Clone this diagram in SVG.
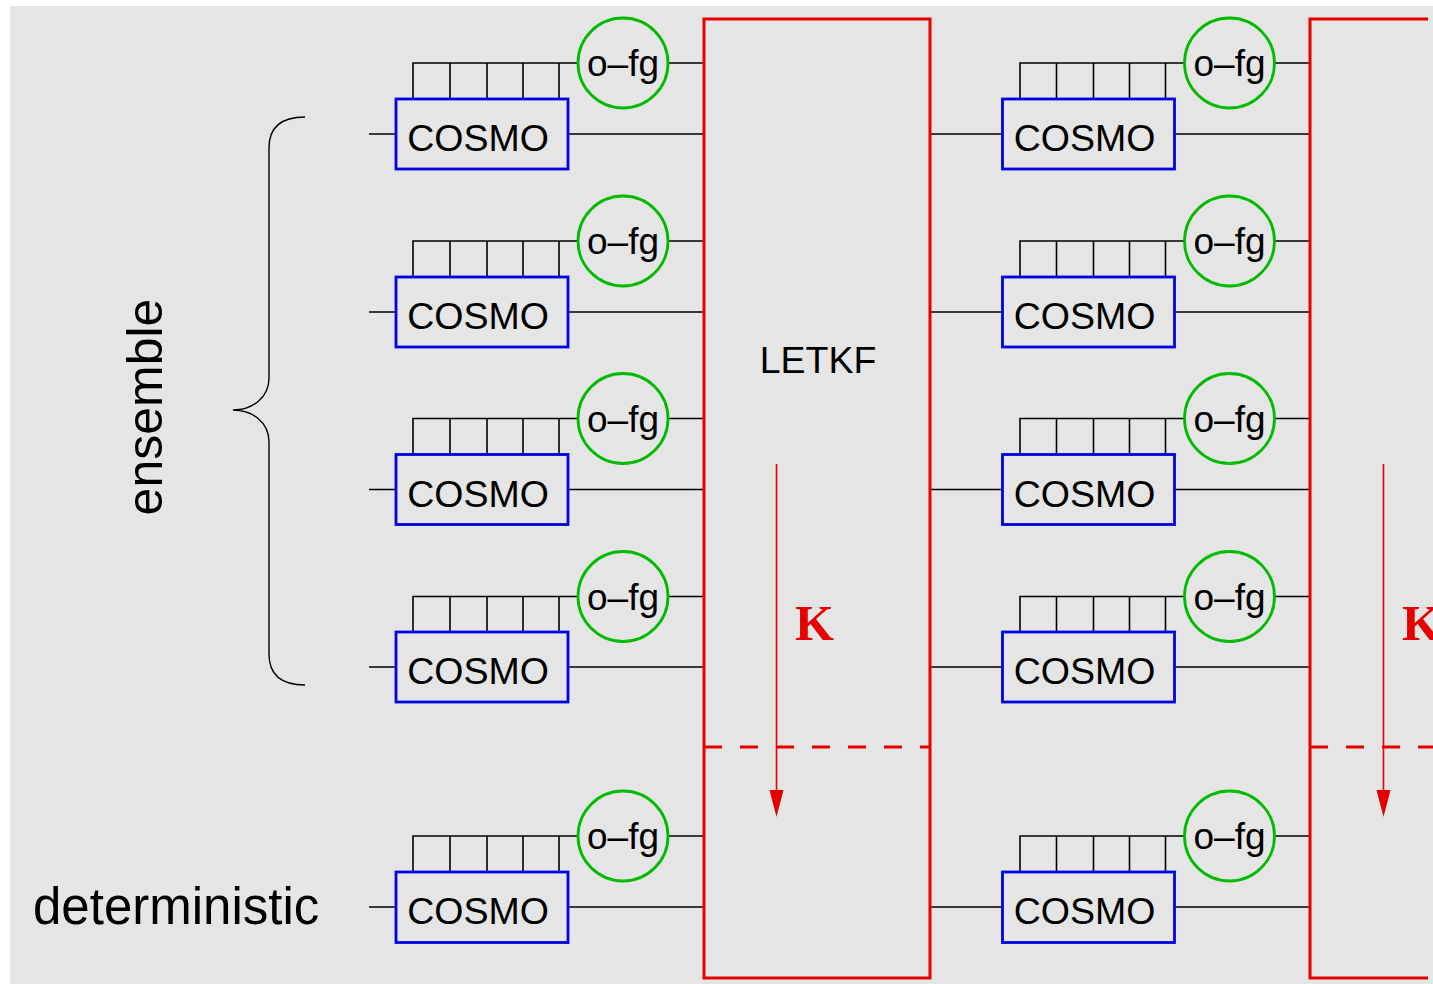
<svg xmlns="http://www.w3.org/2000/svg" width="1433" height="984" viewBox="0 0 1433 984">
<style>
.bg{fill:#e5e5e5}
.ln{stroke:#000;stroke-width:1.6;fill:none}
.box{fill:none;stroke:#0000e0;stroke-width:2.8}
.ofg{fill:none;stroke:#00bb00;stroke-width:2.8}
.red{fill:none;stroke:#e60000;stroke-width:3}
.dash{fill:none;stroke:#e60000;stroke-width:3;stroke-dasharray:18 18}
.arr{stroke:#e60000;stroke-width:1.6;fill:none}
.head{fill:#e60000}
.t{font-family:"Liberation Sans",Arial,sans-serif;fill:#000}
.cosmo{font-size:37.5px;text-anchor:middle}
.of{font-size:37px;text-anchor:middle}
.k{font-family:"Liberation Serif","Times New Roman",serif;font-weight:bold;font-size:50px;fill:#e60000}
</style>
<rect class="bg" x="10" y="6" width="1423" height="978"/>

<g id="connectors">
  <!-- left column -->
  <path class="ln" d="M369,134H396M568,134H704M413,99V63H578M450,63V99M487,63V99M523,63V99M559,63V99M668,63H704"/>
  <path class="ln" d="M369,312H396M568,312H704M413,277V241H578M450,241V277M487,241V277M523,241V277M559,241V277M668,241H704"/>
  <path class="ln" d="M369,489.5H396M568,489.5H704M413,454.5V418.5H578M450,418.5V454.5M487,418.5V454.5M523,418.5V454.5M559,418.5V454.5M668,418.5H704"/>
  <path class="ln" d="M369,667H396M568,667H704M413,632V596.5H578M450,596.5V632M487,596.5V632M523,596.5V632M559,596.5V632M668,596.5H704"/>
  <path class="ln" d="M369,907H396M568,907H704M413,872V836H578M450,836V872M487,836V872M523,836V872M559,836V872M668,836H704"/>
  <!-- right column -->
  <path class="ln" d="M930,134H1002.5M1175,134H1310M1020,99V63H1184.5M1056.5,63V99M1093.5,63V99M1129.5,63V99M1165.5,63V99M1274.5,63H1310"/>
  <path class="ln" d="M930,312H1002.5M1175,312H1310M1020,277V241H1184.5M1056.5,241V277M1093.5,241V277M1129.5,241V277M1165.5,241V277M1274.5,241H1310"/>
  <path class="ln" d="M930,489.5H1002.5M1175,489.5H1310M1020,454.5V418.5H1184.5M1056.5,418.5V454.5M1093.5,418.5V454.5M1129.5,418.5V454.5M1165.5,418.5V454.5M1274.5,418.5H1310"/>
  <path class="ln" d="M930,667H1002.5M1175,667H1310M1020,632V596.5H1184.5M1056.5,596.5V632M1093.5,596.5V632M1129.5,596.5V632M1165.5,596.5V632M1274.5,596.5H1310"/>
  <path class="ln" d="M930,907H1002.5M1175,907H1310M1020,872V836H1184.5M1056.5,836V872M1093.5,836V872M1129.5,836V872M1165.5,836V872M1274.5,836H1310"/>
</g>

<g id="letkf-1">
  <rect class="red" x="704" y="19" width="226" height="959"/>
  <line class="dash" x1="704" y1="747" x2="930" y2="747"/>
  <line class="arr" x1="776.5" y1="464" x2="776.5" y2="792"/>
  <polygon class="head" points="769.5,790 783.5,790 776.5,817"/>
  <text class="t" x="818" y="373" font-size="37.5" text-anchor="middle">LETKF</text>
  <text class="k" x="795" y="640">K</text>
</g>
<g id="letkf-2">
  <path class="red" d="M1428,19H1310V978H1428"/>
  <line class="dash" x1="1310" y1="747" x2="1433" y2="747"/>
  <line class="arr" x1="1383.5" y1="464" x2="1383.5" y2="792"/>
  <polygon class="head" points="1376.5,790 1390.5,790 1383.5,817"/>
  <text class="k" x="1402" y="640">K</text>
</g>

<g id="cosmo-L1"><rect class="box" x="396" y="99" width="172" height="70"/><text class="t cosmo" x="478" y="151">COSMO</text></g>
<g id="cosmo-L2"><rect class="box" x="396" y="277" width="172" height="70"/><text class="t cosmo" x="478" y="329">COSMO</text></g>
<g id="cosmo-L3"><rect class="box" x="396" y="454.5" width="172" height="70"/><text class="t cosmo" x="478" y="507">COSMO</text></g>
<g id="cosmo-L4"><rect class="box" x="396" y="632" width="172" height="70"/><text class="t cosmo" x="478" y="684">COSMO</text></g>
<g id="cosmo-L5"><rect class="box" x="396" y="872" width="172" height="70.5"/><text class="t cosmo" x="478" y="924">COSMO</text></g>

<g id="ofg-L1"><circle class="ofg" cx="623" cy="63" r="45"/><text class="t of" x="623" y="76">o–fg</text></g>
<g id="ofg-L2"><circle class="ofg" cx="623" cy="241" r="45"/><text class="t of" x="623" y="254">o–fg</text></g>
<g id="ofg-L3"><circle class="ofg" cx="623" cy="418.5" r="45"/><text class="t of" x="623" y="431.5">o–fg</text></g>
<g id="ofg-L4"><circle class="ofg" cx="623" cy="596.5" r="45"/><text class="t of" x="623" y="609.5">o–fg</text></g>
<g id="ofg-L5"><circle class="ofg" cx="623" cy="836" r="45"/><text class="t of" x="623" y="849">o–fg</text></g>

<g id="cosmo-R1"><rect class="box" x="1002.5" y="99" width="172" height="70"/><text class="t cosmo" x="1084.5" y="151">COSMO</text></g>
<g id="cosmo-R2"><rect class="box" x="1002.5" y="277" width="172" height="70"/><text class="t cosmo" x="1084.5" y="329">COSMO</text></g>
<g id="cosmo-R3"><rect class="box" x="1002.5" y="454.5" width="172" height="70"/><text class="t cosmo" x="1084.5" y="507">COSMO</text></g>
<g id="cosmo-R4"><rect class="box" x="1002.5" y="632" width="172" height="70"/><text class="t cosmo" x="1084.5" y="684">COSMO</text></g>
<g id="cosmo-R5"><rect class="box" x="1002.5" y="872" width="172" height="70.5"/><text class="t cosmo" x="1084.5" y="924">COSMO</text></g>

<g id="ofg-R1"><circle class="ofg" cx="1229.5" cy="63" r="45"/><text class="t of" x="1229.5" y="76">o–fg</text></g>
<g id="ofg-R2"><circle class="ofg" cx="1229.5" cy="241" r="45"/><text class="t of" x="1229.5" y="254">o–fg</text></g>
<g id="ofg-R3"><circle class="ofg" cx="1229.5" cy="418.5" r="45"/><text class="t of" x="1229.5" y="431.5">o–fg</text></g>
<g id="ofg-R4"><circle class="ofg" cx="1229.5" cy="596.5" r="45"/><text class="t of" x="1229.5" y="609.5">o–fg</text></g>
<g id="ofg-R5"><circle class="ofg" cx="1229.5" cy="836" r="45"/><text class="t of" x="1229.5" y="849">o–fg</text></g>

<g id="ensemble-brace">
  <path class="ln" style="stroke-width:1.4" d="M305,117C284,117 269,125 269,148V378C269,398 252,410 233,410C252,410 269,422 269,442V654C269,677 284,685 305,685"/>
  <text class="t" font-size="50" text-anchor="middle" transform="translate(162,407) rotate(-90)">ensemble</text>
</g>
<g id="deterministic-label">
  <text class="t" x="33" y="924" font-size="51">deterministic</text>
</g>
</svg>
